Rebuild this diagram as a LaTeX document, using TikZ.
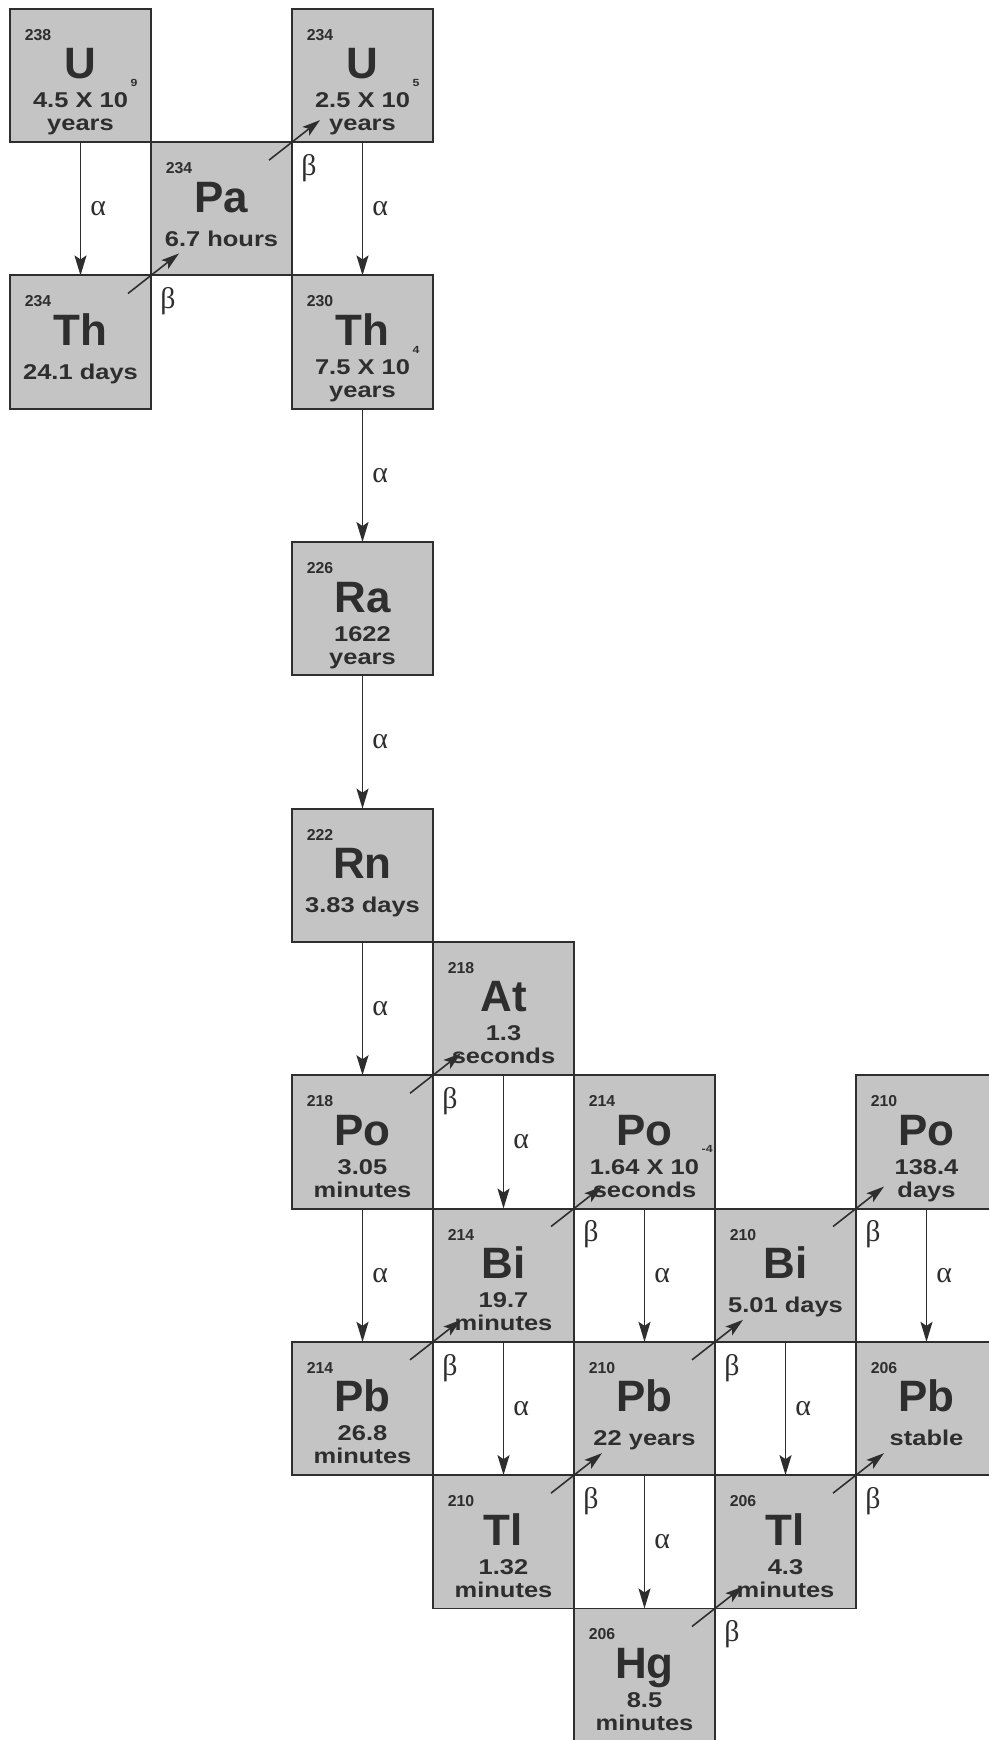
\documentclass[tikz,border=0pt]{standalone}
\usepackage{fontspec}
\setmainfont{Liberation Sans}
\newfontfamily\greekfont{Liberation Serif}
\usepackage{graphicx}
\usepackage{tikz}
\usetikzlibrary{arrows.meta}
\usetikzlibrary{positioning}

\definecolor{boxgray}{gray}{0.77}
\definecolor{inkgray}{gray}{0.18}

\tikzset{
  nucbox/.style={draw=inkgray, line width=1.1pt, fill=boxgray, minimum width=28.2mm,
    minimum height=26.66mm, inner sep=0pt, outer sep=0pt},
  massno/.style={font=\fontsize{9}{9}\selectfont\bfseries, text=inkgray, inner sep=0pt},
  symb/.style={font=\fontsize{25}{25}\selectfont\bfseries, text=inkgray, inner sep=0pt, anchor=base},
  life/.style={font=\fontsize{14.5}{15}\selectfont\bfseries, text=inkgray, inner sep=0pt, anchor=base},
  ptcl/.style={font=\greekfont\fontsize{17}{17}\selectfont, text=inkgray, inner sep=0pt},
  decay/.style={draw=inkgray, line width=1.1pt, -{Stealth[length=4mm,width=2.4mm,inset=0.8mm]}},
  betaarr/.style={draw=inkgray, line width=0.9pt, -{Stealth[length=3.6mm,width=2.2mm,inset=0.8mm]}},
}

% name, column, row, mass, symbol, half-life line 1, line 2
\newcommand{\nuclide}[7]{%
  \node[nucbox] (#1) at ({80.5+141*#2},{75.5+133.3*#3}) {};
  \node[massno] (#1-m) at ([shift={(28,26)}]#1.north west) {#4};
  \node[symb] (#1-s) at ([shift={(0,70)}]#1.north) {#5};
  \ifx\relax#7\relax
    \node[life] (#1-a) at ([shift={(0,104)}]#1.north) {\scalebox{1}[0.84]{#6}};
  \else
    \node[life] (#1-a) at ([shift={(0,99)}]#1.north) {\scalebox{1}[0.84]{#6}};
    \node[life] (#1-b) at ([shift={(0,122)}]#1.north) {\scalebox{1}[0.84]{#7}};
  \fi
}
\newcommand{\tenexp}[1]{\rlap{\kern1.5pt\raisebox{1em}{\fontsize{7}{7}\selectfont #1}}}
\newcommand{\betastep}[2]{%
  \draw[betaarr] ([shift={(-23,18)}]#1.north east) -- ([shift={(28,-22)}]#2.south west);
  \node[ptcl] (#1-beta) at ([shift={(17,26)}]#1.north east) {β};
}

\begin{document}
\begin{tikzpicture}[x=0.2mm, y=-0.2mm]
  \useasboundingbox (0,0) rectangle (988,1740);

  \nuclide{U238}{0}{0}{238}{U}{4.5 X 10\tenexp{9}}{years}
  \nuclide{Pa234}{1}{1}{234}{Pa}{6.7 hours}{}
  \nuclide{U234}{2}{0}{234}{U}{2.5 X 10\tenexp{5}}{years}
  \nuclide{Th234}{0}{2}{234}{Th}{24.1 days}{}
  \nuclide{Th230}{2}{2}{230}{Th}{7.5 X 10\tenexp{4}}{years}
  \nuclide{Ra226}{2}{4}{226}{Ra}{1622}{years}
  \nuclide{Rn222}{2}{6}{222}{Rn}{3.83 days}{}
  \nuclide{At218}{3}{7}{218}{At}{1.3}{seconds}
  \nuclide{Po218}{2}{8}{218}{Po}{3.05}{minutes}
  \nuclide{Po214}{4}{8}{214}{Po}{1.64 X 10\tenexp{-4}}{seconds}
  \nuclide{Po210}{6}{8}{210}{Po}{138.4}{days}
  \nuclide{Bi214}{3}{9}{214}{Bi}{19.7}{minutes}
  \nuclide{Bi210}{5}{9}{210}{Bi}{5.01 days}{}
  \nuclide{Pb214}{2}{10}{214}{Pb}{26.8}{minutes}
  \nuclide{Pb210}{4}{10}{210}{Pb}{22 years}{}
  \nuclide{Pb206}{6}{10}{206}{Pb}{stable}{}
  \nuclide{Tl210}{3}{11}{210}{Tl}{1.32}{minutes}
  \nuclide{Tl206}{5}{11}{206}{Tl}{4.3}{minutes}
  \nuclide{Hg206}{4}{12}{206}{Hg}{8.5}{minutes}

  % alpha decays
  \draw[decay] (U238) -- node[ptcl, right=5pt] (a1) {α} (Th234);
  \draw[decay] (U234) -- node[ptcl, right=5pt] (a2) {α} (Th230);
  \draw[decay] (Th230) -- node[ptcl, right=5pt] (a3) {α} (Ra226);
  \draw[decay] (Ra226) -- node[ptcl, right=5pt] (a4) {α} (Rn222);
  \draw[decay] (Rn222) -- node[ptcl, right=5pt] (a5) {α} (Po218);
  \draw[decay] (At218) -- node[ptcl, right=5pt] (a6) {α} (Bi214);
  \draw[decay] (Po218) -- node[ptcl, right=5pt] (a7) {α} (Pb214);
  \draw[decay] (Po214) -- node[ptcl, right=5pt] (a8) {α} (Pb210);
  \draw[decay] (Bi214) -- node[ptcl, right=5pt] (a9) {α} (Tl210);
  \draw[decay] (Bi210) -- node[ptcl, right=5pt] (a10) {α} (Tl206);
  \draw[decay] (Po210) -- node[ptcl, right=5pt] (a11) {α} (Pb206);
  \draw[decay] (Pb210) -- node[ptcl, right=5pt] (a12) {α} (Hg206);

  % beta decays
  \betastep{Th234}{Pa234}
  \betastep{Pa234}{U234}
  \betastep{Po218}{At218}
  \betastep{Bi214}{Po214}
  \betastep{Pb214}{Bi214}
  \betastep{Bi210}{Po210}
  \betastep{Pb210}{Bi210}
  \betastep{Tl210}{Pb210}
  \betastep{Tl206}{Pb206}
  \betastep{Hg206}{Tl206}
\end{tikzpicture}
\end{document}
